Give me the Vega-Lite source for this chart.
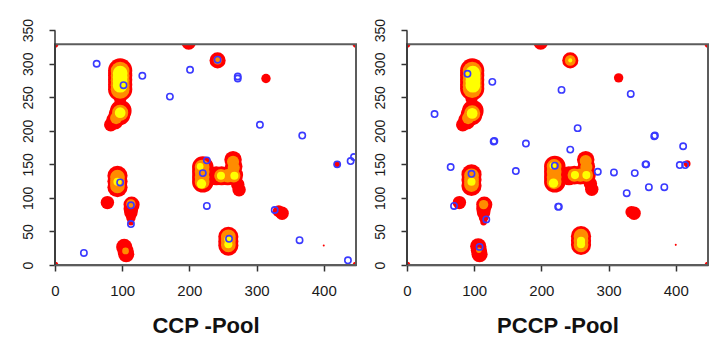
{
  "$schema": "https://vega.github.io/schema/vega-lite/v6.json",
  "background": "white",
  "padding": {"left": 21, "top": 18, "right": 0, "bottom": 2},
  "config": {
    "view": {"stroke": null},
    "font": "Liberation Sans",
    "axis": {"grid": false, "labelFont": "Liberation Sans", "titleFont": "Liberation Sans"}
  },
  "datasets": {
    "blobs": [
      {"p":"L","x":97,"y":290,"r":18,"b":1},{"p":"L","x":97,"y":283,"r":18,"b":1},{"p":"L","x":97,"y":276,"r":18,"b":1},{"p":"L","x":97,"y":269,"r":18,"b":1},{"p":"L","x":97,"y":262,"r":18,"b":1},
      {"p":"L","x":97,"y":289,"r":14,"b":2},{"p":"L","x":97,"y":282,"r":14,"b":2},{"p":"L","x":97,"y":275,"r":14,"b":2},{"p":"L","x":97,"y":268,"r":14,"b":2},{"p":"L","x":97,"y":262,"r":14,"b":2},
      {"p":"L","x":97,"y":286,"r":11,"b":3},{"p":"L","x":97,"y":280,"r":11,"b":3},{"p":"L","x":97,"y":274,"r":11,"b":3},{"p":"L","x":97,"y":268,"r":11,"b":3},
      {"p":"L","x":97,"y":247,"r":9,"b":1},
      {"p":"L","x":98,"y":230,"r":16,"b":1},{"p":"L","x":96,"y":224,"r":16,"b":1},{"p":"L","x":89,"y":215,"r":13,"b":1},{"p":"L","x":83,"y":209,"r":10,"b":1},
      {"p":"L","x":97,"y":227,"r":12,"b":2},{"p":"L","x":91,"y":219,"r":9,"b":2},{"p":"L","x":97,"y":227,"r":8,"b":3},
      {"p":"L","x":199,"y":332,"r":11,"b":1},
      {"p":"L","x":242,"y":305,"r":12,"b":1},{"p":"L","x":242,"y":305,"r":6,"b":2},
      {"p":"L","x":314,"y":278,"r":7,"b":1},
      {"p":"L","x":220,"y":146,"r":16,"b":1},{"p":"L","x":220,"y":139,"r":16,"b":1},{"p":"L","x":220,"y":131,"r":16,"b":1},{"p":"L","x":220,"y":124,"r":16,"b":1},
      {"p":"L","x":219,"y":146,"r":11,"b":2},{"p":"L","x":219,"y":139,"r":11,"b":2},{"p":"L","x":219,"y":131,"r":11,"b":2},{"p":"L","x":219,"y":124,"r":11,"b":2},
      {"p":"L","x":218,"y":121,"r":7,"b":3},{"p":"L","x":216,"y":147,"r":5,"b":3},
      {"p":"L","x":240,"y":133,"r":14,"b":1},{"p":"L","x":248,"y":133,"r":14,"b":1},{"p":"L","x":257,"y":133,"r":14,"b":1},{"p":"L","x":266,"y":134,"r":14,"b":1},
      {"p":"L","x":265,"y":157,"r":13,"b":1},{"p":"L","x":266,"y":147,"r":13,"b":1},{"p":"L","x":272,"y":120,"r":10,"b":1},{"p":"L","x":274,"y":112,"r":10,"b":1},
      {"p":"L","x":247,"y":133,"r":10,"b":2},{"p":"L","x":257,"y":133,"r":10,"b":2},{"p":"L","x":266,"y":133,"r":10,"b":2},{"p":"L","x":265,"y":154,"r":9,"b":2},{"p":"L","x":266,"y":145,"r":9,"b":2},
      {"p":"L","x":247,"y":133,"r":6,"b":3},{"p":"L","x":267,"y":133,"r":6,"b":3},
      {"p":"L","x":93,"y":133,"r":15,"b":1},{"p":"L","x":93,"y":125,"r":15,"b":1},{"p":"L","x":93,"y":116,"r":15,"b":1},
      {"p":"L","x":93,"y":131,"r":11,"b":2},{"p":"L","x":93,"y":124,"r":11,"b":2},{"p":"L","x":93,"y":118,"r":11,"b":2},{"p":"L","x":93,"y":124,"r":6,"b":3},
      {"p":"L","x":78,"y":93,"r":10,"b":1},
      {"p":"L","x":114,"y":90,"r":12,"b":1},{"p":"L","x":113,"y":84,"r":11,"b":1},{"p":"L","x":113,"y":78,"r":10,"b":1},{"p":"L","x":113,"y":70,"r":7,"b":1},{"p":"L","x":113,"y":64,"r":5,"b":1},
      {"p":"L","x":113,"y":91,"r":7,"b":2},
      {"p":"L","x":338,"y":77,"r":10,"b":1},{"p":"L","x":333,"y":80,"r":9,"b":1},
      {"p":"L","x":258,"y":42,"r":15,"b":1},{"p":"L","x":258,"y":35,"r":15,"b":1},{"p":"L","x":258,"y":29,"r":15,"b":1},
      {"p":"L","x":258,"y":42,"r":11,"b":2},{"p":"L","x":258,"y":36,"r":11,"b":2},{"p":"L","x":258,"y":30,"r":11,"b":2},
      {"p":"L","x":258,"y":38,"r":6,"b":3},{"p":"L","x":258,"y":31,"r":6,"b":3},
      {"p":"L","x":103,"y":27,"r":12,"b":1},{"p":"L","x":105,"y":21,"r":12,"b":1},{"p":"L","x":106,"y":16,"r":12,"b":1},{"p":"L","x":105,"y":21,"r":5,"b":2},
      {"p":"L","x":400,"y":29,"r":1.5,"b":1},
      {"p":"L","x":420,"y":150,"r":5,"b":1},
      {"p":"L","x":0,"y":0,"r":5,"b":1},{"p":"L","x":448,"y":0,"r":5,"b":1},{"p":"L","x":0,"y":329,"r":5,"b":1},{"p":"L","x":448,"y":329,"r":5,"b":1},

      {"p":"R","x":97,"y":290,"r":18,"b":1},{"p":"R","x":97,"y":283,"r":18,"b":1},{"p":"R","x":97,"y":276,"r":18,"b":1},{"p":"R","x":97,"y":269,"r":18,"b":1},{"p":"R","x":97,"y":263,"r":18,"b":1},
      {"p":"R","x":97,"y":289,"r":14,"b":2},{"p":"R","x":97,"y":282,"r":14,"b":2},{"p":"R","x":97,"y":275,"r":14,"b":2},{"p":"R","x":97,"y":268,"r":14,"b":2},{"p":"R","x":97,"y":263,"r":14,"b":2},
      {"p":"R","x":98,"y":286,"r":11,"b":3},{"p":"R","x":98,"y":280,"r":11,"b":3},{"p":"R","x":98,"y":274,"r":11,"b":3},{"p":"R","x":98,"y":268,"r":11,"b":3},
      {"p":"R","x":96,"y":248,"r":9,"b":1},
      {"p":"R","x":98,"y":230,"r":16,"b":1},{"p":"R","x":96,"y":224,"r":16,"b":1},{"p":"R","x":89,"y":215,"r":13,"b":1},{"p":"R","x":83,"y":209,"r":10,"b":1},
      {"p":"R","x":97,"y":226,"r":12,"b":2},{"p":"R","x":91,"y":219,"r":9,"b":2},{"p":"R","x":97,"y":226,"r":8,"b":3},
      {"p":"R","x":199,"y":332,"r":11,"b":1},
      {"p":"R","x":243,"y":305,"r":12,"b":1},{"p":"R","x":243,"y":305,"r":8,"b":2},{"p":"R","x":243,"y":305,"r":3,"b":3},
      {"p":"R","x":315,"y":279,"r":7,"b":1},
      {"p":"R","x":220,"y":147,"r":16,"b":1},{"p":"R","x":220,"y":139,"r":16,"b":1},{"p":"R","x":220,"y":131,"r":16,"b":1},{"p":"R","x":220,"y":124,"r":16,"b":1},
      {"p":"R","x":219,"y":147,"r":11,"b":2},{"p":"R","x":219,"y":139,"r":11,"b":2},{"p":"R","x":219,"y":131,"r":11,"b":2},{"p":"R","x":219,"y":124,"r":11,"b":2},
      {"p":"R","x":218,"y":122,"r":7,"b":3},{"p":"R","x":217,"y":148,"r":5,"b":3},
      {"p":"R","x":241,"y":133,"r":14,"b":1},{"p":"R","x":249,"y":134,"r":14,"b":1},{"p":"R","x":258,"y":134,"r":14,"b":1},{"p":"R","x":267,"y":134,"r":14,"b":1},
      {"p":"R","x":266,"y":157,"r":13,"b":1},{"p":"R","x":267,"y":147,"r":13,"b":1},{"p":"R","x":273,"y":121,"r":10,"b":1},{"p":"R","x":275,"y":113,"r":10,"b":1},
      {"p":"R","x":249,"y":134,"r":10,"b":2},{"p":"R","x":258,"y":134,"r":10,"b":2},{"p":"R","x":267,"y":134,"r":10,"b":2},{"p":"R","x":266,"y":155,"r":9,"b":2},{"p":"R","x":267,"y":146,"r":9,"b":2},
      {"p":"R","x":250,"y":134,"r":6,"b":3},{"p":"R","x":267,"y":134,"r":6,"b":3},
      {"p":"R","x":96,"y":135,"r":15,"b":1},{"p":"R","x":96,"y":127,"r":15,"b":1},{"p":"R","x":96,"y":118,"r":15,"b":1},
      {"p":"R","x":96,"y":133,"r":11,"b":2},{"p":"R","x":96,"y":126,"r":11,"b":2},{"p":"R","x":96,"y":120,"r":11,"b":2},{"p":"R","x":96,"y":124,"r":6,"b":3},
      {"p":"R","x":78,"y":93,"r":10,"b":1},
      {"p":"R","x":115,"y":90,"r":12,"b":1},{"p":"R","x":114,"y":84,"r":11,"b":1},{"p":"R","x":114,"y":78,"r":10,"b":1},{"p":"R","x":114,"y":70,"r":7,"b":1},{"p":"R","x":114,"y":64,"r":5,"b":1},
      {"p":"R","x":114,"y":90,"r":7,"b":2},
      {"p":"R","x":338,"y":77,"r":10,"b":1},{"p":"R","x":334,"y":79,"r":9,"b":1},
      {"p":"R","x":259,"y":43,"r":15,"b":1},{"p":"R","x":259,"y":36,"r":15,"b":1},{"p":"R","x":259,"y":30,"r":15,"b":1},
      {"p":"R","x":259,"y":43,"r":11,"b":2},{"p":"R","x":259,"y":36,"r":11,"b":2},{"p":"R","x":259,"y":30,"r":11,"b":2},
      {"p":"R","x":259,"y":36,"r":6,"b":3},{"p":"R","x":259,"y":31,"r":6,"b":3},
      {"p":"R","x":106,"y":28,"r":12,"b":1},{"p":"R","x":107,"y":22,"r":12,"b":1},{"p":"R","x":108,"y":16,"r":12,"b":1},{"p":"R","x":107,"y":22,"r":4,"b":2},
      {"p":"R","x":400,"y":30,"r":1.5,"b":1},
      {"p":"R","x":417,"y":151,"r":5,"b":1},
      {"p":"R","x":0,"y":0,"r":5,"b":1},{"p":"R","x":448,"y":0,"r":5,"b":1},{"p":"R","x":0,"y":329,"r":5,"b":1},{"p":"R","x":448,"y":329,"r":5,"b":1}
    ],
    "pts": [
      {"p":"L","x":62,"y":300},{"p":"L","x":130,"y":282},{"p":"L","x":102,"y":268},{"p":"L","x":171,"y":251},
      {"p":"L","x":201,"y":291},{"p":"L","x":242,"y":306},{"p":"L","x":272,"y":281},{"p":"L","x":272,"y":278},
      {"p":"L","x":305,"y":209},{"p":"L","x":368,"y":193},{"p":"L","x":420,"y":150},{"p":"L","x":440,"y":155},
      {"p":"L","x":445,"y":161},{"p":"L","x":226,"y":156},{"p":"L","x":220,"y":137},{"p":"L","x":97,"y":123},
      {"p":"L","x":113,"y":89},{"p":"L","x":113,"y":61},{"p":"L","x":226,"y":88},{"p":"L","x":327,"y":82},
      {"p":"L","x":259,"y":39},{"p":"L","x":364,"y":37},{"p":"L","x":43,"y":18},{"p":"L","x":436,"y":7},
      {"p":"R","x":41,"y":225},{"p":"R","x":90,"y":285},{"p":"R","x":127,"y":273},{"p":"R","x":230,"y":261},
      {"p":"R","x":333,"y":255},{"p":"R","x":254,"y":204},{"p":"R","x":368,"y":192},{"p":"R","x":369,"y":193},
      {"p":"R","x":129,"y":184},{"p":"R","x":130,"y":185},{"p":"R","x":177,"y":181},{"p":"R","x":243,"y":172},
      {"p":"R","x":411,"y":177},{"p":"R","x":65,"y":146},{"p":"R","x":220,"y":148},{"p":"R","x":96,"y":136},
      {"p":"R","x":162,"y":140},{"p":"R","x":284,"y":139},{"p":"R","x":308,"y":138},{"p":"R","x":339,"y":137},
      {"p":"R","x":355,"y":150},{"p":"R","x":356,"y":150},{"p":"R","x":406,"y":149},{"p":"R","x":414,"y":149},
      {"p":"R","x":327,"y":107},{"p":"R","x":360,"y":116},{"p":"R","x":383,"y":116},{"p":"R","x":70,"y":88},
      {"p":"R","x":225,"y":87},{"p":"R","x":226,"y":87},{"p":"R","x":118,"y":68},{"p":"R","x":108,"y":27}
    ],
    "box": [{"x0":0,"x1":448,"y0":0,"y1":329}],
    "mask": [{"x0":0,"x1":448,"y0":329,"y1":350.3}],
    "yline": [{"x":0,"y0":0,"y1":350}]
  },
  "spacing": 16,
  "hconcat": [
    {
      "width": 301, "height": 235,
      "layer": [
        {
          "data": {"name": "blobs"},
          "transform": [{"filter": "datum.p == 'L'"}],
          "mark": {"type": "point", "filled": true, "clip": true, "opacity": 1, "strokeWidth": 0},
          "encoding": {
            "x": {"field": "x", "type": "quantitative", "scale": {"domain": [0, 448], "nice": false, "zero": false},
                  "axis": {"values": [0,100,200,300,400], "tickCount": 20, "labelFlush": false, "labelOverlap": false, "tickSize": 6, "tickColor": "#333", "tickWidth": 1.5, "domainColor": "#333", "domainWidth": 1.5, "labelFontSize": 15, "labelColor": "#1a1a1a", "labelPadding": 12, "title": "CCP -Pool", "titleFontSize": 22, "titleFontWeight": "bold", "titleColor": "#111", "titlePadding": 17}},
            "y": {"field": "y", "type": "quantitative", "scale": {"domain": [0, 350.3], "nice": false, "zero": false},
                  "axis": {"values": [0,50,100,150,200,250,300,350], "tickCount": 20, "labelAngle": -90, "labelFlush": false, "labelOverlap": false, "domain": false, "tickSize": 6, "tickColor": "#333", "tickWidth": 1.5, "labelFontSize": 14, "labelColor": "#1a1a1a", "labelPadding": 14, "title": null}},
            "color": {"field": "b", "type": "ordinal", "scale": {"domain": [1,2,3], "range": ["#ff0000", "#ff8c00", "#ffff00"]}, "legend": null},
            "size": {"field": "r", "type": "quantitative", "scale": {"type": "pow", "exponent": 2, "domain": [0, 20], "range": [0, 723]}, "legend": null},
            "order": {"field": "b", "type": "quantitative"}
          }
        },
        {
          "data": {"name": "pts"},
          "transform": [{"filter": "datum.p == 'L'"}],
          "mark": {"type": "point", "filled": false, "clip": true, "color": "#3a3aff", "strokeWidth": 1.6, "size": 40, "opacity": 1},
          "encoding": {"x": {"field": "x", "type": "quantitative"}, "y": {"field": "y", "type": "quantitative"}}
        },
        {
          "data": {"name": "mask"},
          "mark": {"type": "rect", "fill": "white", "strokeWidth": 0},
          "encoding": {"x": {"field": "x0", "type": "quantitative"}, "x2": {"field": "x1"}, "y": {"field": "y0", "type": "quantitative"}, "y2": {"field": "y1"}}
        },
        {
          "data": {"name": "box"},
          "mark": {"type": "rect", "fill": "white", "fillOpacity": 0, "stroke": "#5c5c5c", "strokeWidth": 2},
          "encoding": {"x": {"field": "x0", "type": "quantitative"}, "x2": {"field": "x1"}, "y": {"field": "y0", "type": "quantitative"}, "y2": {"field": "y1"}}
        },
        {
          "data": {"name": "yline"},
          "mark": {"type": "rule", "color": "#333", "strokeWidth": 1.5},
          "encoding": {"x": {"field": "x", "type": "quantitative"}, "y": {"field": "y0", "type": "quantitative"}, "y2": {"field": "y1"}}
        }
      ]
    },
    {
      "width": 301, "height": 235,
      "layer": [
        {
          "data": {"name": "blobs"},
          "transform": [{"filter": "datum.p == 'R'"}],
          "mark": {"type": "point", "filled": true, "clip": true, "opacity": 1, "strokeWidth": 0},
          "encoding": {
            "x": {"field": "x", "type": "quantitative", "scale": {"domain": [0, 448], "nice": false, "zero": false},
                  "axis": {"values": [0,100,200,300,400], "tickCount": 20, "labelFlush": false, "labelOverlap": false, "tickSize": 6, "tickColor": "#333", "tickWidth": 1.5, "domainColor": "#333", "domainWidth": 1.5, "labelFontSize": 15, "labelColor": "#1a1a1a", "labelPadding": 12, "title": "PCCP -Pool", "titleFontSize": 22, "titleFontWeight": "bold", "titleColor": "#111", "titlePadding": 17}},
            "y": {"field": "y", "type": "quantitative", "scale": {"domain": [0, 350.3], "nice": false, "zero": false},
                  "axis": {"values": [0,50,100,150,200,250,300,350], "tickCount": 20, "labelAngle": -90, "labelFlush": false, "labelOverlap": false, "domain": false, "tickSize": 6, "tickColor": "#333", "tickWidth": 1.5, "labelFontSize": 14, "labelColor": "#1a1a1a", "labelPadding": 14, "title": null}},
            "color": {"field": "b", "type": "ordinal", "scale": {"domain": [1,2,3], "range": ["#ff0000", "#ff8c00", "#ffff00"]}, "legend": null},
            "size": {"field": "r", "type": "quantitative", "scale": {"type": "pow", "exponent": 2, "domain": [0, 20], "range": [0, 723]}, "legend": null},
            "order": {"field": "b", "type": "quantitative"}
          }
        },
        {
          "data": {"name": "pts"},
          "transform": [{"filter": "datum.p == 'R'"}],
          "mark": {"type": "point", "filled": false, "clip": true, "color": "#3a3aff", "strokeWidth": 1.6, "size": 40, "opacity": 1},
          "encoding": {"x": {"field": "x", "type": "quantitative"}, "y": {"field": "y", "type": "quantitative"}}
        },
        {
          "data": {"name": "mask"},
          "mark": {"type": "rect", "fill": "white", "strokeWidth": 0},
          "encoding": {"x": {"field": "x0", "type": "quantitative"}, "x2": {"field": "x1"}, "y": {"field": "y0", "type": "quantitative"}, "y2": {"field": "y1"}}
        },
        {
          "data": {"name": "box"},
          "mark": {"type": "rect", "fill": "white", "fillOpacity": 0, "stroke": "#5c5c5c", "strokeWidth": 2},
          "encoding": {"x": {"field": "x0", "type": "quantitative"}, "x2": {"field": "x1"}, "y": {"field": "y0", "type": "quantitative"}, "y2": {"field": "y1"}}
        },
        {
          "data": {"name": "yline"},
          "mark": {"type": "rule", "color": "#333", "strokeWidth": 1.5},
          "encoding": {"x": {"field": "x", "type": "quantitative"}, "y": {"field": "y0", "type": "quantitative"}, "y2": {"field": "y1"}}
        }
      ]
    }
  ]
}
